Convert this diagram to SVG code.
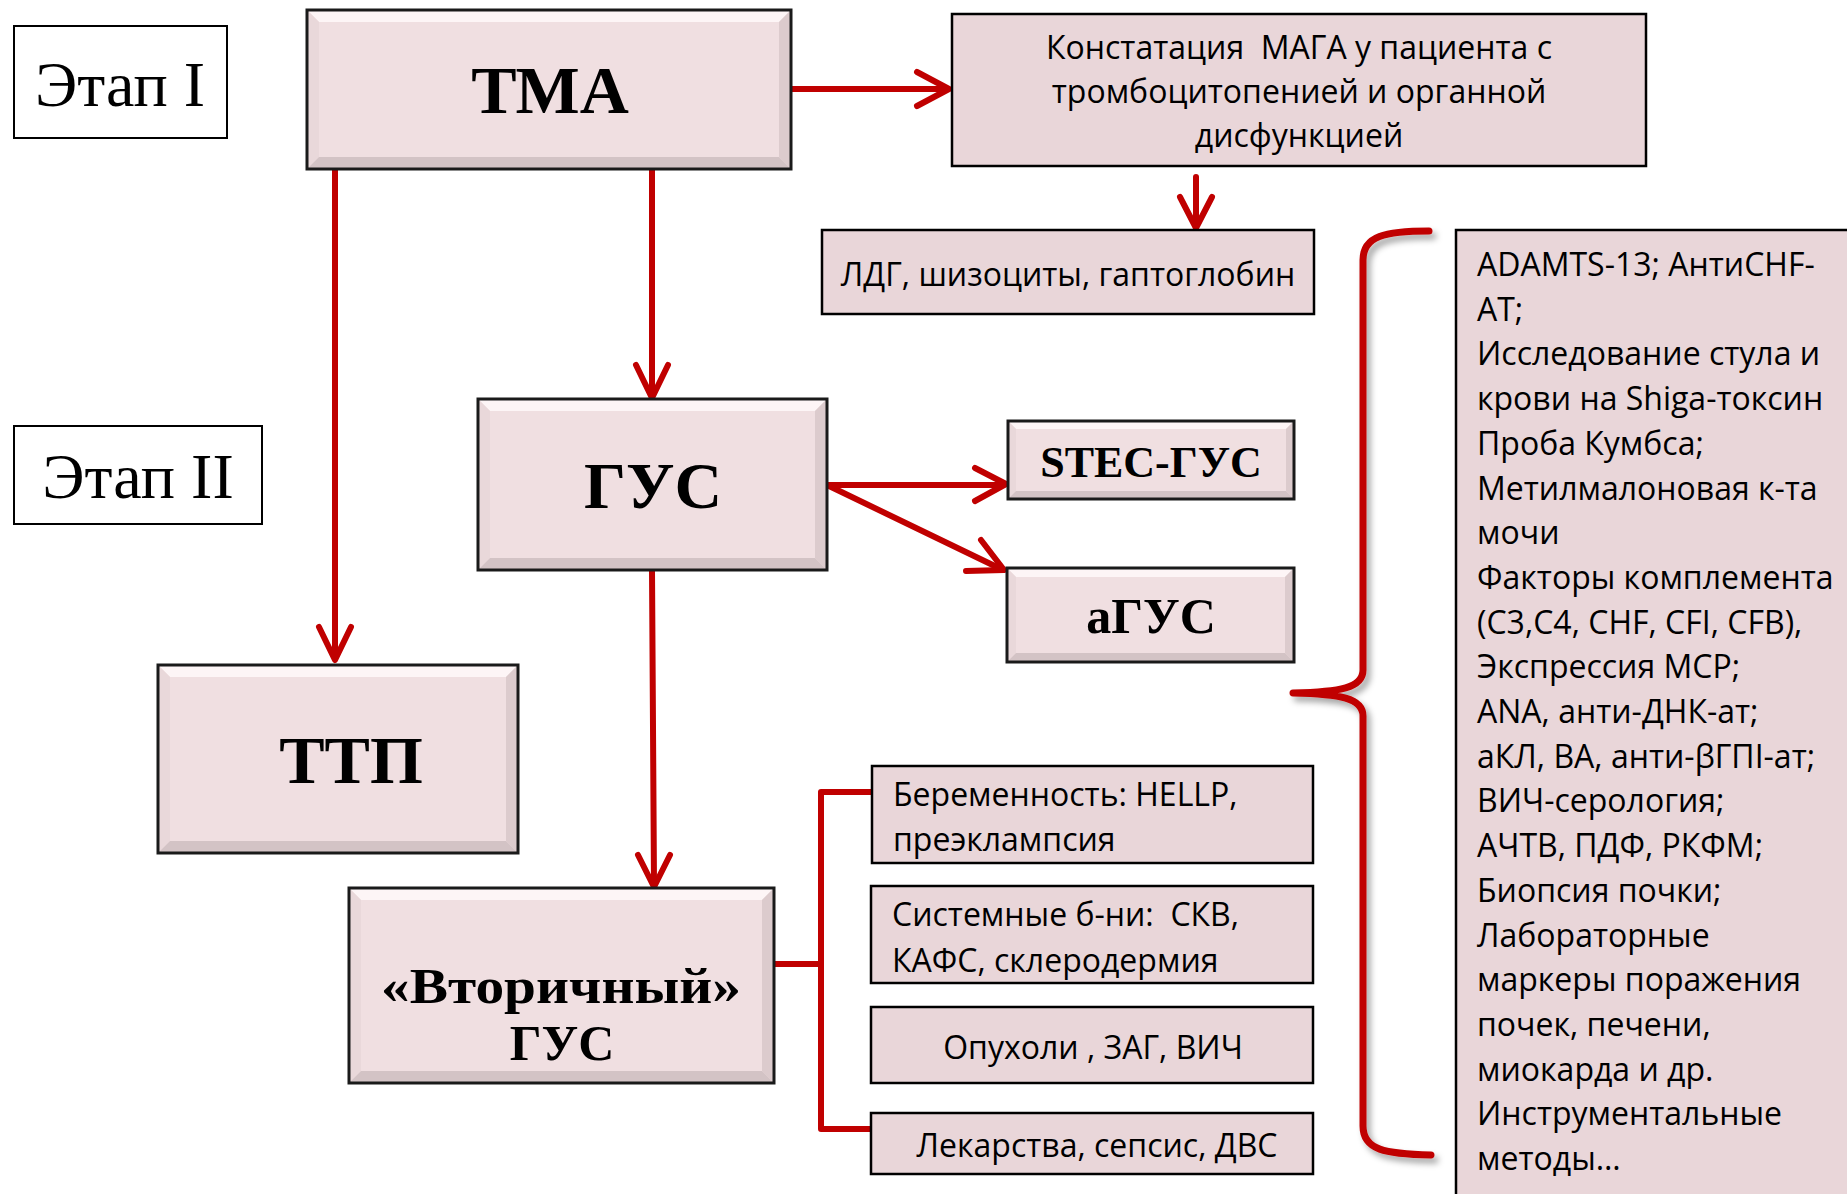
<svg xmlns="http://www.w3.org/2000/svg" width="1847" height="1194" viewBox="0 0 1847 1194">
<style>
.bg{fill:#ffffff}
.stage{fill:#ffffff;stroke:#000;stroke-width:2}
.bev{fill:#f0dfe1}
.bt{fill:#fdf5f6}
.bl{fill:#e9d8da}
.br{fill:#dccbcd}
.bb{fill:#d3c3c5}
.bord{fill:none;stroke:#1a1a1a;stroke-width:3}
.flat{fill:#e9d6d9;stroke:#000;stroke-width:2.5}
.conn{fill:none;stroke:#c00000;stroke-width:6;stroke-linecap:round;stroke-linejoin:round}
.brace{fill:none;stroke:#c00000;stroke-width:7;stroke-linecap:round;stroke-linejoin:round}
.serif{font-family:"Liberation Serif","Times New Roman",serif;fill:#000}
.big{font-weight:bold}
.sans{font-family:"Open Sans","Noto Sans",sans-serif;font-size:32px;fill:#000;white-space:pre}
.mid{text-anchor:middle}
</style>
<defs>
<filter id="sh" x="-20%" y="-5%" width="160%" height="110%">
<feDropShadow dx="4" dy="5" stdDeviation="3" flood-color="#000" flood-opacity="0.35"/>
</filter>
</defs>
<rect class="bg" x="0" y="0" width="1847" height="1194"/>

<g id="connectors">
<path class="conn" d="M791,89 H946"/>
<path class="conn" d="M917,72 L949,89 L917,106"/>
<path class="conn" d="M335,169 V657"/>
<path class="conn" d="M319,627 L335,660 L351,627"/>
<path class="conn" d="M652,169 V395"/>
<path class="conn" d="M636,365 L652,398 L668,365"/>
<path class="conn" d="M1196,177 V226"/>
<path class="conn" d="M1180,197 L1196,228 L1212,197"/>
<path class="conn" d="M827,485 H1003"/>
<path class="conn" d="M975,468 L1006,484 L975,501"/>
<path class="conn" d="M827,485 L1001,569"/>
<path class="conn" d="M981,540 L1004,570 L966,571"/>
<path class="conn" d="M652,570 L654,884"/>
<path class="conn" d="M638,855 L654,887 L670,855"/>
<path class="conn" d="M774,964 H821"/>
<path class="conn" d="M871,792 H821 V1129 H871"/>
<path class="brace" filter="url(#sh)" d="M1429,231 C1385,231 1363,236 1363,260 V670 C1363,688 1340,692 1293,693 C1340,694 1363,698 1363,716 V1126 C1363,1150 1385,1154 1431,1155"/>
</g>

<g id="stage1">
<rect class="stage" x="14" y="26" width="213" height="112"/>
<text class="serif" x="120" y="106" font-size="64" text-anchor="middle">Этап I</text>
</g>
<g id="stage2">
<rect class="stage" x="14" y="426" width="248" height="98"/>
<text class="serif" x="138" y="498" font-size="64" text-anchor="middle">Этап II</text>
</g>

<g id="tma">
<rect class="bev" x="307" y="10" width="484" height="159"/>
<polygon class="bt" points="307,10 791,10 779,22 319,22"/>
<polygon class="bl" points="307,10 319,22 319,157 307,169"/>
<polygon class="br" points="791,10 791,169 779,157 779,22"/>
<polygon class="bb" points="307,169 791,169 779,157 319,157"/>
<rect class="bord" x="307" y="10" width="484" height="159"/>
<text class="serif big" x="550" y="113" font-size="68" text-anchor="middle">ТМА</text>
</g>

<g id="gus">
<rect class="bev" x="478" y="399" width="349" height="171"/>
<polygon class="bt" points="478,399 827,399 815,411 490,411"/>
<polygon class="bl" points="478,399 490,411 490,558 478,570"/>
<polygon class="br" points="827,399 827,570 815,558 815,411"/>
<polygon class="bb" points="478,570 827,570 815,558 490,558"/>
<rect class="bord" x="478" y="399" width="349" height="171"/>
<text class="serif big" x="653" y="508" font-size="66" text-anchor="middle">ГУС</text>
</g>

<g id="ttp">
<rect class="bev" x="158" y="665" width="360" height="188"/>
<polygon class="bt" points="158,665 518,665 506,677 170,677"/>
<polygon class="bl" points="158,665 170,677 170,841 158,853"/>
<polygon class="br" points="518,665 518,853 506,841 506,677"/>
<polygon class="bb" points="158,853 518,853 506,841 170,841"/>
<rect class="bord" x="158" y="665" width="360" height="188"/>
<text class="serif big" x="351" y="783" font-size="68" text-anchor="middle">ТТП</text>
</g>

<g id="secondary">
<rect class="bev" x="349" y="888" width="425" height="195"/>
<polygon class="bt" points="349,888 774,888 762,900 361,900"/>
<polygon class="bl" points="349,888 361,900 361,1071 349,1083"/>
<polygon class="br" points="774,888 774,1083 762,1071 762,900"/>
<polygon class="bb" points="349,1083 774,1083 762,1071 361,1071"/>
<rect class="bord" x="349" y="888" width="425" height="195"/>
<text class="serif big" x="561" y="1003" font-size="50" text-anchor="middle" textLength="360" lengthAdjust="spacingAndGlyphs">«Вторичный»</text>
<text class="serif big" x="562" y="1060" font-size="50" text-anchor="middle">ГУС</text>
</g>

<g id="stec">
<rect class="bev" x="1008" y="421" width="286" height="78"/>
<polygon class="bt" points="1008,421 1294,421 1286,429 1016,429"/>
<polygon class="bl" points="1008,421 1016,429 1016,491 1008,499"/>
<polygon class="br" points="1294,421 1294,499 1286,491 1286,429"/>
<polygon class="bb" points="1008,499 1294,499 1286,491 1016,491"/>
<rect class="bord" x="1008" y="421" width="286" height="78"/>
<text class="serif big" x="1151" y="477" font-size="44" text-anchor="middle">STEC-ГУС</text>
</g>

<g id="agus">
<rect class="bev" x="1007" y="568" width="287" height="94"/>
<polygon class="bt" points="1007,568 1294,568 1285,577 1016,577"/>
<polygon class="bl" points="1007,568 1016,577 1016,653 1007,662"/>
<polygon class="br" points="1294,568 1294,662 1285,653 1285,577"/>
<polygon class="bb" points="1007,662 1294,662 1285,653 1016,653"/>
<rect class="bord" x="1007" y="568" width="287" height="94"/>
<text class="serif big" x="1151" y="633" font-size="50" text-anchor="middle">аГУС</text>
</g>

<g id="konst">
<rect class="flat" x="952" y="14" width="694" height="152"/>
<text class="sans mid" x="1299" y="59">Констатация  МАГА у пациента с</text>
<text class="sans mid" x="1299" y="103">тромбоцитопенией и органной</text>
<text class="sans mid" x="1299" y="147">дисфункцией</text>
</g>

<g id="ldg">
<rect class="flat" x="822" y="230" width="492" height="84"/>
<text class="sans mid" x="1068" y="286">ЛДГ, шизоциты, гаптоглобин</text>
</g>

<g id="tests">
<rect class="flat" x="1456" y="230" width="420" height="980"/>
<text class="sans" x="1477" y="276">ADAMTS-13; АнтиCHF-</text>
<text class="sans" x="1477" y="320.7">АТ;</text>
<text class="sans" x="1477" y="365.4">Исследование стула и</text>
<text class="sans" x="1477" y="410.1">крови на Shiga-токсин</text>
<text class="sans" x="1477" y="454.8">Проба Кумбса;</text>
<text class="sans" x="1477" y="499.5">Метилмалоновая к-та</text>
<text class="sans" x="1477" y="544.2">мочи</text>
<text class="sans" x="1477" y="588.9">Факторы комплемента</text>
<text class="sans" x="1477" y="633.6">(C3,C4, CHF, CFI, CFB),</text>
<text class="sans" x="1477" y="678.3">Экспрессия MCP;</text>
<text class="sans" x="1477" y="723">ANA, анти-ДНК-ат;</text>
<text class="sans" x="1477" y="767.7">аКЛ, ВА, анти-βГПI-ат;</text>
<text class="sans" x="1477" y="812.4">ВИЧ-серология;</text>
<text class="sans" x="1477" y="857.1">АЧТВ, ПДФ, РКФМ;</text>
<text class="sans" x="1477" y="901.8">Биопсия почки;</text>
<text class="sans" x="1477" y="946.5">Лабораторные</text>
<text class="sans" x="1477" y="991.2">маркеры поражения</text>
<text class="sans" x="1477" y="1035.9">почек, печени,</text>
<text class="sans" x="1477" y="1080.6">миокарда и др.</text>
<text class="sans" x="1477" y="1125.3">Инструментальные</text>
<text class="sans" x="1477" y="1170">методы…</text>
</g>

<g id="pregnancy">
<rect class="flat" x="872" y="766" width="441" height="97"/>
<text class="sans" x="893" y="806">Беременность: HELLP,</text>
<text class="sans" x="893" y="851">преэклампсия</text>
</g>

<g id="systemic">
<rect class="flat" x="871" y="886" width="442" height="97"/>
<text class="sans" x="892" y="926">Системные б-ни:  СКВ,</text>
<text class="sans" x="892" y="972">КАФС, склеродермия</text>
</g>

<g id="tumors">
<rect class="flat" x="871" y="1007" width="442" height="76"/>
<text class="sans mid" x="1093" y="1059">Опухоли , ЗАГ, ВИЧ</text>
</g>

<g id="drugs">
<rect class="flat" x="871" y="1113" width="442" height="61"/>
<text class="sans mid" x="1097" y="1157">Лекарства, сепсис, ДВС</text>
</g>
</svg>
